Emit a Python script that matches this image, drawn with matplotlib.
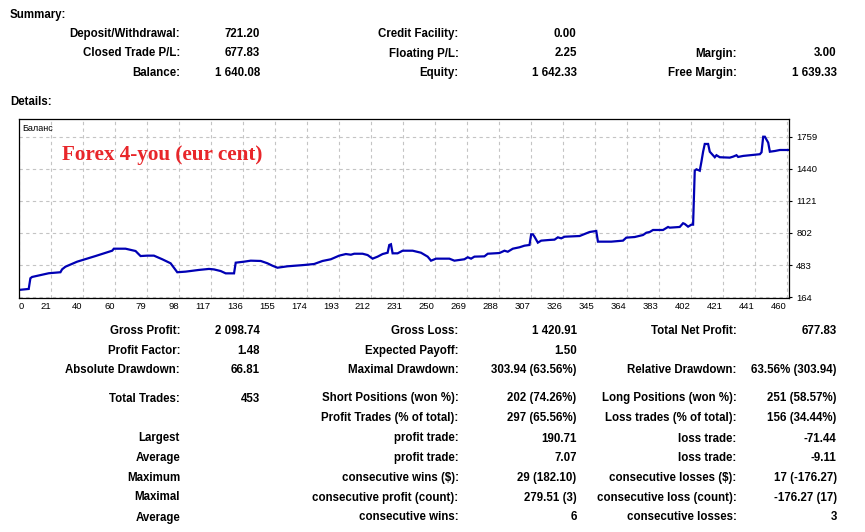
import matplotlib
matplotlib.use("Agg")
import matplotlib.pyplot as plt

W, H = 865, 532

# ---------------- data ----------------
trade_idx = [0, 6, 7, 8, 18, 25, 26, 28, 35, 46, 56, 57, 64, 70, 73, 77, 81, 86, 91, 95,
             100, 108, 114, 117, 121, 124, 129, 130, 135, 139, 145, 149, 152, 155, 161,
             171, 177, 182, 187, 192, 196, 199, 201, 206, 209, 212, 215, 218, 221, 222,
             223, 224, 227, 230, 236, 241, 245, 247, 250, 258, 261, 267, 269, 271, 273,
             279, 281, 288, 291, 293, 296, 300, 303, 306, 307, 308, 309, 311, 313, 318,
             321, 323, 325, 327, 336, 339, 342, 346, 347, 355, 362, 364, 369, 374, 376,
             378, 380, 386, 389, 390, 396, 398, 399, 401, 403, 404, 405, 406, 408, 409,
             410, 411, 413, 414, 417, 418, 420, 426, 428, 430, 431, 434, 440, 444, 445,
             446, 447, 449, 450, 453, 456, 462]
balance = [236, 246, 352, 365, 402, 412, 441, 467, 517, 573, 626, 646, 646, 623, 573, 577, 577, 541, 501, 412,
           418, 435, 445, 440, 424, 401, 401, 507, 517, 527, 524, 501, 477, 457, 471,
           484, 494, 524, 541, 577, 593, 586, 596, 596, 583, 547, 567, 593, 606, 683,
           690, 600, 600, 626, 626, 606, 567, 527, 547, 547, 527, 541, 561, 547, 567,
           570, 596, 603, 626, 616, 646, 660, 676, 683, 789, 789, 765, 706, 726, 733,
           736, 759, 749, 765, 772, 792, 812, 822, 716, 716, 726, 756, 762, 782, 805,
           812, 832, 832, 862, 855, 862, 899, 892, 865, 885, 885, 1421, 1435, 1421, 1511,
           1610, 1687, 1687, 1610, 1555, 1575, 1555, 1551, 1561, 1575, 1558, 1568, 1578, 1585, 1604,
           1759, 1759, 1700, 1610, 1617, 1627, 1627]

x_tick_labels = ["0", "21", "40", "60", "79", "98", "117", "136", "155", "174", "193", "212",
                 "231", "250", "269", "288", "307", "326", "345", "364", "383", "402", "421",
                 "441", "460"]
x_tick_step = 19.17
y_ticks = [164, 483, 802, 1121, 1440, 1759]

chart_series_label = "Баланс"
chart_title = "Forex 4-you (eur cent)"

summary_cols = [
    (["Deposit/Withdrawal:", "Closed Trade P/L:", "Balance:"], ["721.20", "677.83", "1 640.08"]),
    (["Credit Facility:", "Floating P/L:", "Equity:"], ["0.00", "2.25", "1 642.33"]),
    (["", "Margin:", "Free Margin:"], ["", "3.00", "1 639.33"]),
]

details_col1_labels = ["Gross Profit:", "Profit Factor:", "Absolute Drawdown:", "Total Trades:", "",
                       "Largest", "Average", "Maximum", "Maximal", "Average"]
details_col1_values = ["2 098.74", "1.48", "66.81", "453", "", "", "", "", "", ""]
details_col2_labels = ["Gross Loss:", "Expected Payoff:", "Maximal Drawdown:", "Short Positions (won %):",
                       "Profit Trades (% of total):", "profit trade:", "profit trade:",
                       "consecutive wins ($):", "consecutive profit (count):", "consecutive wins:"]
details_col2_values = ["1 420.91", "1.50", "303.94 (63.56%)", "202 (74.26%)", "297 (65.56%)",
                       "190.71", "7.07", "29 (182.10)", "279.51 (3)", "6"]
details_col3_labels = ["Total Net Profit:", "", "Relative Drawdown:", "Long Positions (won %):",
                       "Loss trades (% of total):", "loss trade:", "loss trade:",
                       "consecutive losses ($):", "consecutive loss (count):", "consecutive losses:"]
details_col3_values = ["677.83", "", "63.56% (303.94)", "251 (58.57%)", "156 (34.44%)",
                       "-71.44", "-9.11", "17 (-176.27)", "-176.27 (17)", "3"]

# ---------------- layout ----------------
fig = plt.figure(figsize=(W / 100, H / 100), dpi=100)
fig.patch.set_facecolor("white")

FONT = "Liberation Sans"
FS = 8.3


def px(x, y):
    return x / W, 1 - y / H


def put(x, y, s, ha="right", **kw):
    if s:
        fig.text(*px(x, y), s, ha=ha, va="center", family=FONT, fontsize=FS,
                 fontweight="bold", color="black", **kw)


put(10, 15, "Summary:", ha="left")
put(10, 102, "Details:", ha="left")

label_right = [180, 458.5, 736.7]
value_right = [260, 576.7, 836.7]
summary_rows_y = [34, 53.5, 73]
for c, (labs, vals) in enumerate(summary_cols):
    for r, (l, v) in enumerate(zip(labs, vals)):
        put(label_right[c], summary_rows_y[r], l)
        put(value_right[c], summary_rows_y[r], v)

details_rows_y = [331, 351, 370, 398.5, 418.5, 438.5, 458, 478, 497.5, 517.5]
det_cols = [(details_col1_labels, details_col1_values),
            (details_col2_labels, details_col2_values),
            (details_col3_labels, details_col3_values)]
for c, (labs, vals) in enumerate(det_cols):
    for r, (l, v) in enumerate(zip(labs, vals)):
        put(label_right[c], details_rows_y[r], l)
        put(value_right[c], details_rows_y[r], v)

# ---------------- chart ----------------
ax_l, ax_r, ax_t, ax_b = 18.7, 789.3, 119.3, 298.0
ax = fig.add_axes([ax_l / W, 1 - ax_b / H, (ax_r - ax_l) / W, (ax_b - ax_t) / H])
px_per_grid = 32.0
xmax = (ax_r - ax_l) / px_per_grid * x_tick_step
ax.set_xlim(0, xmax)
ax.set_ylim(156, 1932)

xt = [i * x_tick_step for i in range(len(x_tick_labels))]
ax.set_xticks(xt)
ax.set_xticklabels(x_tick_labels, family=FONT, fontsize=6.8)
for i, t in enumerate(ax.get_xticklabels()):
    t.set_ha("left" if i == 0 else "right")
ax.tick_params(axis="x", length=0, pad=3)

ax.yaxis.tick_right()
ax.set_yticks(y_ticks)
ax.set_yticklabels([str(v) for v in y_ticks], family=FONT, fontsize=6.8)
ax.tick_params(axis="y", direction="out", length=2.5, width=0.8, pad=2.5)

ax.grid(True, color="#C4C4C4", linestyle=(0, (3, 3)), linewidth=0.8)
ax.set_axisbelow(True)
for s in ax.spines.values():
    s.set_color("black")
    s.set_linewidth(0.9)

ax.plot(trade_idx, balance, color="#0000B4", linewidth=1.6, solid_joinstyle="miter")

ax.text(3.5 / (ax_r - ax_l), 1 - 9.4 / (ax_b - ax_t), chart_series_label, transform=ax.transAxes,
        ha="left", va="center", family=FONT, fontsize=6.5, color="black")
ax.text((62 - ax_l) / (ax_r - ax_l), 1 - (155 - ax_t) / (ax_b - ax_t), chart_title,
        transform=ax.transAxes, ha="left", va="center", family="Liberation Serif",
        fontsize=15.2, fontweight="bold", color="#E8262A")

fig.savefig("out.png", dpi=100, facecolor="white")
